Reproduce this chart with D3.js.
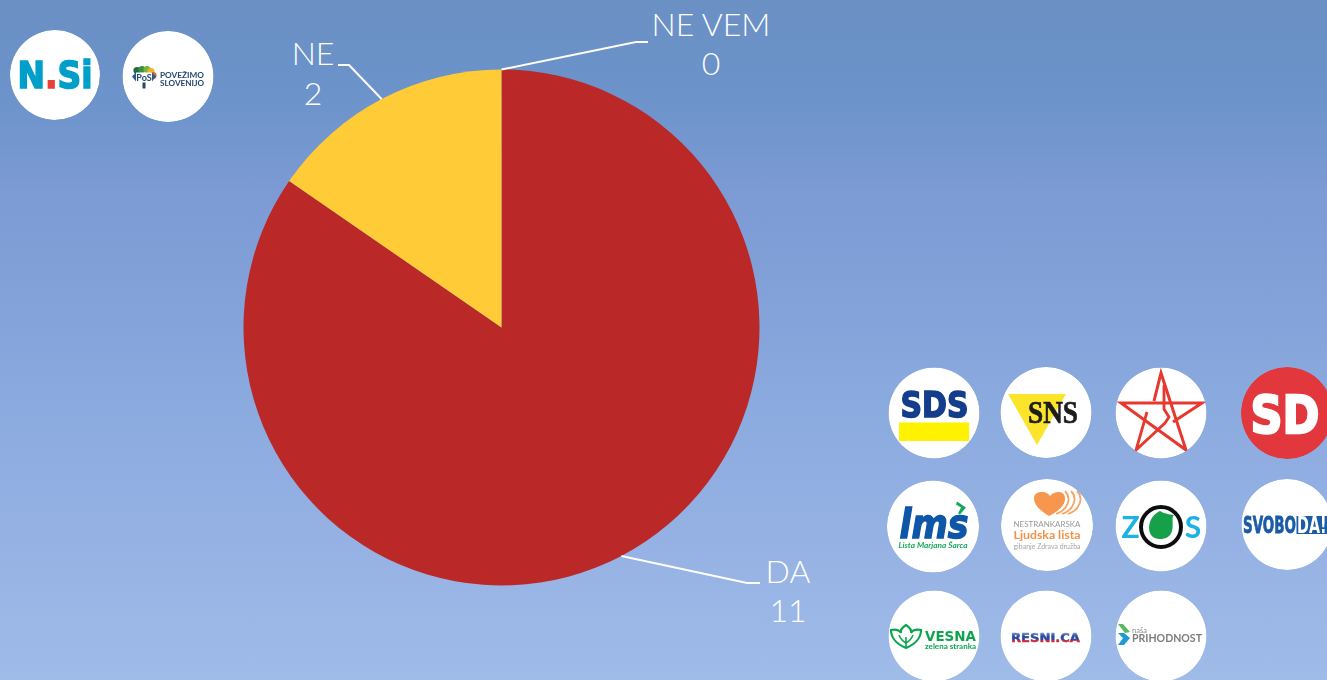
<!DOCTYPE html>
<html><head><meta charset="utf-8">
<script src="https://cdn.jsdelivr.net/npm/d3@7"></script>
<style>html,body{margin:0;padding:0;overflow:hidden;background:#7f9dd5}svg{display:block}text{font-family:Lato,"Open Sans",sans-serif}.hv{font-family:"DejaVu Sans",sans-serif;font-weight:700}.sf{font-family:"Liberation Serif",serif;font-weight:700}</style>
</head><body><svg id="c" width="1327" height="680"></svg>
<script>
const categories = ["DA", "NE", "NE VEM"];
const values = [11, 2, 0];
const sliceColors = ["#bb2828", "#ffcb37", "#a5a5a5"];
const logosTop = ["N.Si", "PoS"];
const logosGrid = ["SDS","SNS","Levica","SD","LMS","Ljudska lista","ZOS","Svoboda","Vesna","Resni.ca","Nasa prihodnost"];

const W = 1327, H = 680, cx = 501.5, cy = 327.5, R = 258;
const svg = d3.select("#c");
const defs = svg.append("defs");
const bg = defs.append("linearGradient").attr("id","bg").attr("x1",0).attr("x2",0).attr("y1",0).attr("y2",1);
[[0,"#6a90c4"],[.14,"#6c93ca"],[.28,"#7c9ad3"],[.45,"#83a2da"],[.62,"#8cabdf"],[.8,"#96b2e4"],[1,"#9fbbe8"]]
  .forEach(s=>bg.append("stop").attr("offset",s[0]).attr("stop-color",s[1]));
defs.append("filter").attr("id","soft").append("feGaussianBlur").attr("stdDeviation",0.45);
svg.append("rect").attr("width",W).attr("height",H).attr("fill","url(#bg)");

// pie
const pie = d3.pie().sort(null).value(d=>d.v);
const arcs = pie(categories.map((c,i)=>({c,v:values[i],col:sliceColors[i]})));
const arc = d3.arc().innerRadius(0).outerRadius(R);
const edge = d3.arc().innerRadius(R).outerRadius(R);
const g = svg.append("g").attr("transform",`translate(${cx},${cy})`);
g.selectAll("path.s").data(arcs).join("path").attr("class","s").attr("d",arc).attr("fill",d=>d.data.col);

// leader geometry relative to pie centre: elbow x, tail x, y; then label x, baselines
const leader = {"DA":[245.5,258.5,255.5],"NE":[-152.5,-163.5,-262.5],"NE VEM":[134.5,146.5,-285.5]};
const label = {"DA":[286.5,255.5,294.5],"NE":[-188.5,-262.5,-222.5],"NE VEM":[209.5,-291.5,-252.5]};
arcs.forEach(d=>{
  const p = edge.centroid(d), e = leader[d.data.c], l = label[d.data.c];
  g.append("path").attr("d",`M${p[0]},${p[1]}L${e[0]},${e[2]}L${e[1]},${e[2]}`).attr("fill","none").attr("stroke","#fff").attr("stroke-width",2);
  const t = g.append("text").attr("text-anchor","middle").attr("fill","#fff").attr("font-size",32).attr("font-weight",300);
  t.append("tspan").attr("x",l[0]).attr("y",l[1]).text(d.data.c);
  t.append("tspan").attr("x",l[0]).attr("y",l[2]).text(d.data.v);
});

// logos
function disc(x,y,r,name,fill){
  const id="clip"+name.replace(/[^a-zA-Z]/g,"");
  defs.append("clipPath").attr("id",id).append("circle").attr("r",r);
  const n=svg.append("g").attr("transform",`translate(${x},${y})`).attr("clip-path",`url(#${id})`).append("g").attr("filter","url(#soft)");
  n.append("circle").attr("r",r).attr("fill",fill||"#fff");
  return n;
}
function txt(n,s,x,y,size,col,o){
  o=o||{};
  const t=n.append("text").attr("x",x).attr("y",y).attr("font-size",size).attr("fill",col).text(s);
  if(o.cls) t.attr("class",o.cls);
  if(o.w) t.attr("font-weight",o.w);
  if(o.a) t.attr("text-anchor",o.a);
  if(o.len) t.attr("textLength",o.len).attr("lengthAdjust","spacingAndGlyphs");
  if(o.it) t.attr("font-style","italic");
  if(o.sw) t.attr("stroke",col).attr("stroke-width",o.sw);
  return t;
}

let n=disc(55,75,45,logosTop[0]);
const ns=txt(n,null,0,13,37,"#009fca",{cls:"hv",a:"middle",len:75,sw:1.6});
ns.append("tspan").text("N"); ns.append("tspan").attr("fill","#e8433a").attr("stroke","#e8433a").text("."); ns.append("tspan").text("Si");

n=disc(168,76.5,45.5,logosTop[1]);
[["#1f6b4a",-31,-6],["#3d8f3f",-26,-7],["#79b13c",-21,-7],["#f0b429",-17,-5],["#e0682c",-15,-1]].forEach(c=>n.append("circle").attr("cx",c[1]).attr("cy",c[2]).attr("r",3.6).attr("fill",c[0]));
n.append("rect").attr("x",-32).attr("y",-4).attr("width",16).attr("height",10).attr("fill","#fff");
n.append("path").attr("d","M-36,0L-32,-4L-32,5Z M-12,0L-16,-4L-16,5Z").attr("fill","#2a5d8f");
txt(n,"PoS",-24,4,9,"#26466d",{w:700,a:"middle"});
n.append("rect").attr("x",-25.5).attr("y",6).attr("width",3).attr("height",6).attr("fill","#26466d");
txt(n,"POVEŽIMO",-8,1.5,8.4,"#26466d",{w:700,len:44});
txt(n,"SLOVENIJO",-8,9.5,8.4,"#26466d",{w:700,len:44});

n=disc(934,413,45.5,logosGrid[0]);
txt(n,"SDS",0.5,4,35,"#123d8c",{cls:"hv",a:"middle",len:68,sw:1.6});
n.append("rect").attr("x",-35).attr("y",9.5).attr("width",70).attr("height",18.5).attr("fill","#fff200");

n=disc(1046,412.5,45.5,logosGrid[1]);
n.append("path").attr("d",d3.line()([[-38,-18.5],[20,-18.5],[-9,32.5]])+"Z").attr("fill","#fbe42c");
txt(n,"SNS",7,10.5,31,"#1c1c1c",{cls:"sf",a:"middle",len:50,sw:0.7});

n=disc(1161,413,45.5,logosGrid[2]);
n.append("path").attr("d","M-7,-12L0,-40L25,37L-40,-10L41,-10L12,9").attr("fill","none").attr("stroke","#e8382f").attr("stroke-width",3).attr("stroke-linejoin","miter");
n.append("path").attr("d","M3,-28L3,-4L8,4L4,10L-25,37L-14,-1").attr("fill","none").attr("stroke","#e8382f").attr("stroke-width",2.8);

n=disc(1287,413,46,logosGrid[3],"#e2383c");
txt(n,"SD",-2,19.5,51,"#fff",{cls:"hv",a:"middle",len:69,sw:2.4});

n=disc(933,526.5,46,logosGrid[4]);
txt(n,"lms",1,11,40,"#0b56a8",{cls:"hv",a:"middle",len:69,it:1,sw:1.4});
n.append("path").attr("d","M24,-25L33,-19L27,-12L25,-13L28,-19L23,-22Z").attr("fill","#16a85a");
txt(n,"Lista Marjana Šarca",0,21.5,8,"#19a862",{w:700,a:"middle",len:69,it:1});

n=disc(1047,525,46,logosGrid[5]);
n.append("path").attr("d","M2,-9C-10,-16 -13,-22 -13,-27C-13,-32 -8,-33 -5,-33C-1,-33 2,-31 3,-29C5,-32 9,-33 12,-33C16,-33 18,-30 18,-26C18,-20 12,-14 2,-9Z").attr("fill","#f6964f");
[[21,1.8],[27,1.8],[33,1.8]].forEach(a=>n.append("path").attr("d",`M${a[0]-3},-34C${a[0]+4},-27 ${a[0]},-15 ${a[0]-12},-11`).attr("fill","none").attr("stroke","#f6a565").attr("stroke-width",a[1]));
txt(n,"NESTRANKARSKA",0,2,7.6,"#9a9a9a",{a:"middle",len:67});
txt(n,"Ljudska lista",0,14,10.8,"#f2924a",{w:700,a:"middle",len:67});
txt(n,"gibanje Zdrava družba",0,24,6.8,"#a6a6a6",{a:"middle",len:67});

n=disc(1161,526,45.5,logosGrid[6]);
txt(n,"Z",-30.5,12,30,"#1cb2e6",{w:700,a:"middle"});
txt(n,"S",32,12,30,"#1cb2e6",{w:700,a:"middle"});
n.append("circle").attr("cy",1).attr("r",20).attr("fill","none").attr("stroke","#111").attr("stroke-width",4);
n.append("path").attr("d","M-12,1C-11,-9 -5,-13 -1,-15C3,-12 13,-11 13,-11C10,-9 13,-2 11,5C9,12 3,13 -1,13C-8,13 -12,9 -12,1Z").attr("fill","#15a04a");

n=disc(1287,524.5,45.5,logosGrid[7]);
txt(n,"SVOBO",-44,8.5,23,"#1a5ba7",{cls:"hv",len:53,sw:0.8});
n.append("rect").attr("x",9.5).attr("y",-8.5).attr("width",32).attr("height",18).attr("fill","#1a5ba7");
txt(n,"DA!",10,8.5,23,"#fff",{cls:"hv",len:29.5});

n=disc(934,636,45.5,logosGrid[8]);
n.append("path").attr("d","M-28,12C-38,8 -43,1 -43,-6C-37,-7 -34,-5 -33,-3C-34,-6 -31,-9 -28,-11C-25,-9 -22,-6 -23,-3C-22,-5 -19,-7 -13,-6C-13,1 -18,8 -28,12Z").attr("fill","none").attr("stroke","#11a44f").attr("stroke-width",2.2);
n.append("path").attr("d","M-28,1L-28,12M-35,-1C-33,4 -30,6 -28,7M-21,-1C-23,4 -26,6 -28,7").attr("fill","none").attr("stroke","#11a44f").attr("stroke-width",1.6);
txt(n,"VESNA",-9,5,14,"#11a44f",{cls:"hv",len:51});
txt(n,"zelena stranka",-9,12.5,7.6,"#11a44f",{w:700,len:51});

defs.append("linearGradient").attr("id","resni").attr("x1",0).attr("x2",0).attr("y1",0).attr("y2",1)
  .selectAll("stop").data([[0,"#c9d2ea"],[.4,"#2a4aa0"],[.62,"#2a4aa0"],[.72,"#d42a38"],[1,"#d42a38"]]).join("stop")
  .attr("offset",d=>d[0]).attr("stop-color",d=>d[1]);
n=disc(1046,636,45.5,logosGrid[9]);
txt(n,"RESNI.CA",-0.5,6,13,"url(#resni)",{cls:"hv",a:"middle",len:69,sw:0.5});

n=disc(1161,636,45.5,logosGrid[10]);
n.append("path").attr("d","M-43,-12L-38,-12L-31,-4L-36,-3Z").attr("fill","#5cb85c");
n.append("path").attr("d","M-43,-3L-37,-3L-31,2L-37,9L-43,9L-38,2Z").attr("fill","#1c9ad6");
txt(n,"naša",-29,-3,7.5,"#8c8c8c");
txt(n,"PRIHODNOST",-29,6,11,"#7d7d7d",{w:700,len:70});
</script></body></html>
